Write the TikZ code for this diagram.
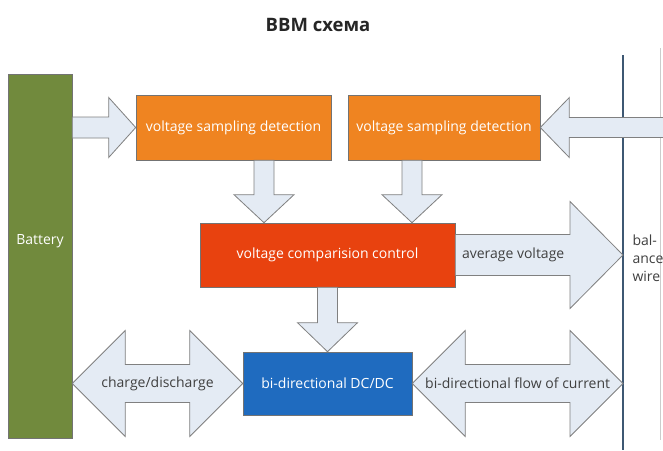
\documentclass[tikz,border=0pt]{standalone}
\usepackage{fontspec}
\setmainfont{Open Sans}
\usetikzlibrary{calc}

\definecolor{batgreen}{HTML}{718A3D}
\definecolor{samporange}{HTML}{EF8421}
\definecolor{cmpred}{HTML}{E8420F}
\definecolor{dcblue}{HTML}{1F6BBF}
\definecolor{arrfill}{HTML}{E4EBF4}
\definecolor{busline}{HTML}{3E5873}

\tikzset{every node/.style={font=\fontsize{14}{18}\selectfont}}
\tikzstyle{block}=[draw=black!55, line width=0.6pt, text=white, inner sep=0pt]
\tikzstyle{arrowbody}=[draw=black!50, line width=0.8pt, fill=arrfill, line join=miter]
\tikzstyle{arrtext}=[text=black!75]

% horizontal block arrow: from, tip, shaft half, head half, head base offset
\newcommand{\harr}[5]{\draw[arrowbody] ($(#1)+(0,#3)$) -- ($(#2)+(#5,#3)$) -- ($(#2)+(#5,#4)$) -- (#2)
  -- ($(#2)+(#5,-#4)$) -- ($(#2)+(#5,-#3)$) -- ($(#1)+(0,-#3)$) -- cycle;}
% vertical block arrow
\newcommand{\varr}[5]{\draw[arrowbody] ($(#1)+(#3,0)$) -- ($(#2)+(#3,#5)$) -- ($(#2)+(#4,#5)$) -- (#2)
  -- ($(#2)+(-#4,#5)$) -- ($(#2)+(-#3,#5)$) -- ($(#1)+(-#3,0)$) -- cycle;}
% double block arrow: left tip, right tip, shaft half, head half, head length
\newcommand{\dblarr}[5]{\draw[arrowbody] (#1) -- ($(#1)+(#5,-#4)$) -- ($(#1)+(#5,-#3)$) -- ($(#2)+(-#5,-#3)$)
  -- ($(#2)+(-#5,-#4)$) -- (#2) -- ($(#2)+(-#5,#4)$) -- ($(#2)+(-#5,#3)$) -- ($(#1)+(#5,#3)$)
  -- ($(#1)+(#5,#4)$) -- cycle;}

\begin{document}
\begin{tikzpicture}[x=1pt,y=-1pt]
\clip (0,0) rectangle (663,450);
\fill[white] (0,0) rectangle (663,450);

\node[font=\fontsize{18.5}{20}\selectfont\bfseries, text=black!85] (title) at (318,25) {BBM схема};

% blocks
\node[block, fill=batgreen, minimum width=64pt, minimum height=364pt] (bat) at (40,256) {};
\node[text=white] (battxt) at (40,241) {Battery};
\node[block, fill=samporange, minimum width=195pt, minimum height=65pt] (samp1) at (233.5,127.5) {voltage sampling detection};
\node[block, fill=samporange, minimum width=192pt, minimum height=65pt] (samp2) at (444,127.5) {voltage sampling detection};
\node[block, fill=cmpred, minimum width=255pt, minimum height=64pt] (cmp) at (327.5,255) {voltage comparision control};
\node[block, fill=dcblue, minimum width=169pt, minimum height=63pt] (dcdc) at (327.5,383.5) {bi-directional DC/DC};

% balance wire
\draw[black!20, line width=0.8pt] (660,48) -- (660,440);
\draw[busline, line width=2pt] (623,55) coordinate (busT) -- (623,450) coordinate (busB);
\node[arrtext, align=left, anchor=west] (baltxt) at (629,258) {bal-\\ance\\wire};

% arrows
\coordinate (batout) at (bat.east |- samp1.west);
\coordinate (balin) at (675,127.5);
\coordinate (s1out) at ([xshift=30.5pt]samp1.south);
\coordinate (s2out) at ([xshift=-32pt]samp2.south);
\coordinate (avgtip) at (busT |- cmp.east);
\coordinate (chgtip) at (bat.east |- dcdc.west);
\coordinate (flowtip) at (busT |- dcdc.east);

\harr{batout}{samp1.west}{10.5}{30}{-27}
\harr{balin}{samp2.east}{10}{30}{29}
\varr{s1out}{s1out |- cmp.north}{10}{30}{-28}
\varr{s2out}{s2out |- cmp.north}{10}{30}{-28}
\varr{cmp.south}{dcdc.north}{10}{30}{-29}
\harr{cmp.east}{avgtip}{20.5}{53.5}{-53}
\dblarr{chgtip}{dcdc.west}{19}{53}{53}
\dblarr{dcdc.east}{flowtip}{19}{53}{53}

\node[arrtext] (avgtxt) at ($(cmp.east)!0.5!(avgtip)+(-26,0)$) {average voltage};
\node[arrtext] (chgtxt) at ($(chgtip)!0.5!(dcdc.west)$) {charge/discharge};
\node[arrtext] (flowtxt) at ($(dcdc.east)!0.5!(flowtip)$) {bi-directional flow of current};
\end{tikzpicture}
\end{document}
